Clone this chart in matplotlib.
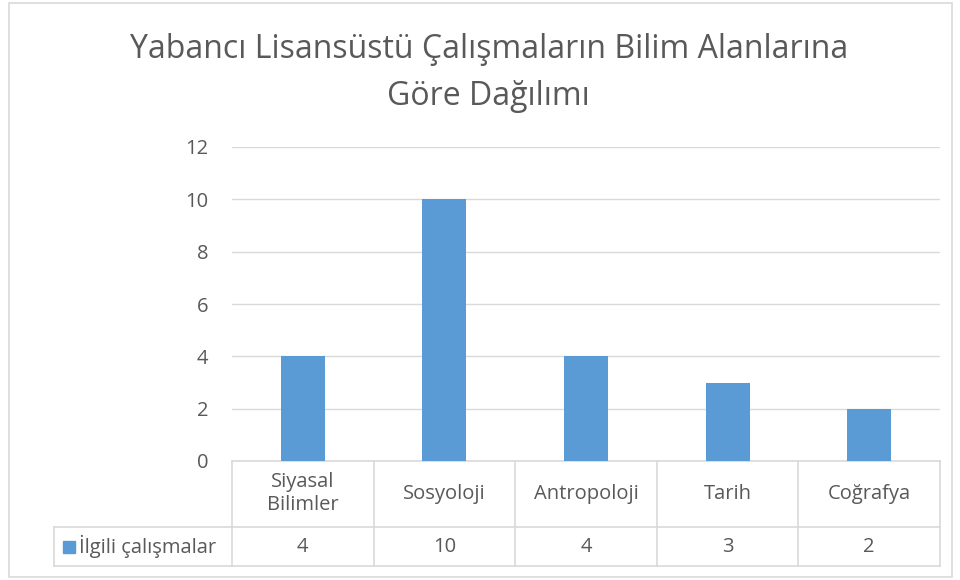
import matplotlib.pyplot as plt
import matplotlib.transforms as mtransforms
from matplotlib.patches import Rectangle

# Chart data
categories = ['Siyasal\nBilimler', 'Sosyoloji', 'Antropoloji', 'Tarih', 'Coğrafya']
values = [4, 10, 4, 3, 2]
series_name = 'İlgili çalışmalar'
title = 'Yabancı Lisansüstü Çalışmaların Bilim Alanlarına\nGöre Dağılımı'
y_ticks = [0, 2, 4, 6, 8, 10, 12]

bar_color = '#5B9BD5'
text_color = '#595959'
grid_color = '#D9D9D9'

plt.rcParams['font.family'] = ['Open Sans', 'DejaVu Sans']

W, H = 960, 580
fig = plt.figure(figsize=(W / 100, H / 100), dpi=100)

# outer chart border
fig.patches.append(Rectangle((9 / W, 1 - 577 / H), 943 / W, 574 / H,
                             transform=fig.transFigure, fill=False,
                             edgecolor=grid_color, linewidth=1.2))

ax = fig.add_axes([232 / W, 1 - 461 / H, 708 / W, 314 / H])
x = range(len(values))
ax.bar(x, values, width=0.31, color=bar_color, zorder=3)
ax.set_xlim(-0.5, len(values) - 0.5)
ax.set_ylim(0, 12)
ax.set_yticks(y_ticks)
ax.set_xticks([])
ax.tick_params(axis='y', length=0, pad=17, labelsize=14.5, labelcolor=text_color)
ax.grid(axis='y', color=grid_color, linewidth=1, zorder=0)
for s in ax.spines.values():
    s.set_visible(False)

fig.text(0.509, 1 - 73 / H, title, ha='center', va='center', fontsize=23,
         color=text_color, linespacing=1.55)

# data table under the axis
tr = mtransforms.blended_transform_factory(ax.transData, fig.transFigure)
y_top = 1 - 461 / H
y_mid = 1 - 527 / H
y_bot = 1 - 566 / H
n = len(values)
lw = 1.2
line_kw = dict(color=grid_color, linewidth=lw, clip_on=False)
ax.plot([-0.5, n - 0.5], [y_top, y_top], transform=tr, **line_kw)
ax.plot([-0.5, n - 0.5], [y_mid, y_mid], transform=tr, **line_kw)
ax.plot([-0.5, n - 0.5], [y_bot, y_bot], transform=tr, **line_kw)
for i in range(n + 1):
    ax.plot([i - 0.5, i - 0.5], [y_top, y_bot], transform=tr, **line_kw)
# legend cell on the left
fig.add_artist(plt.Line2D([54 / W, 232 / W], [y_mid, y_mid], color=grid_color, linewidth=lw))
fig.add_artist(plt.Line2D([54 / W, 232 / W], [y_bot, y_bot], color=grid_color, linewidth=lw))
fig.add_artist(plt.Line2D([54 / W, 54 / W], [y_mid, y_bot], color=grid_color, linewidth=lw))
fig.patches.append(Rectangle((63 / W, 1 - 553 / H), 12 / W, 12 / H,
                             transform=fig.transFigure, color=bar_color))
fig.text(79 / W, (y_mid + y_bot) / 2, series_name, ha='left', va='center',
         fontsize=14.5, color=text_color)

for i, (cat, v) in enumerate(zip(categories, values)):
    ax.text(i, (y_top + y_mid) / 2, cat, transform=tr, ha='center', va='center',
            fontsize=14.5, color=text_color, linespacing=1.2)
    ax.text(i, (y_mid + y_bot) / 2, str(v), transform=tr, ha='center', va='center',
            fontsize=14.5, color=text_color)

fig.savefig('out.png', dpi=100)
